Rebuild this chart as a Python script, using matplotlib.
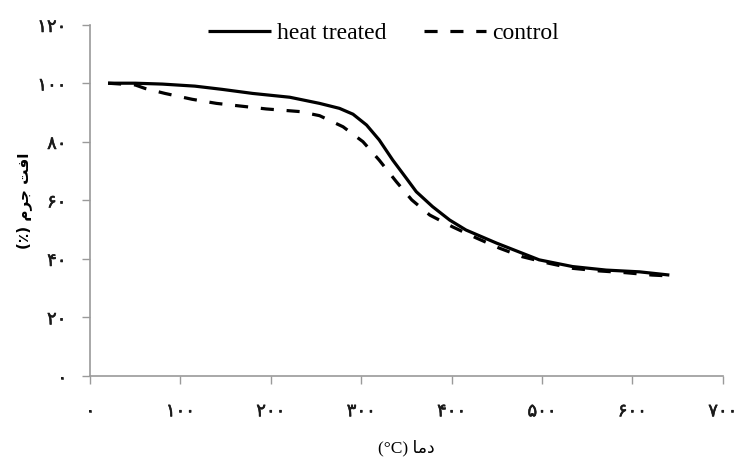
import matplotlib
matplotlib.use('Agg')
import numpy as np
from matplotlib import pyplot as plt
from matplotlib import patheffects

# temperature (C) and mass (%)
heat_temp = [20, 50, 80, 116, 146, 180, 221, 254, 276, 291, 306, 320, 335, 350, 361,
             379, 398, 416, 450, 497, 534, 571, 608, 641]
heat_mass = [100.1, 100.1, 99.8, 99.1, 98.0, 96.6, 95.3, 93.2, 91.5, 89.5, 85.8, 80.7,
             73.8, 67.6, 63.0, 57.9, 53.3, 49.9, 45.4, 39.7, 37.4, 36.2, 35.6, 34.5]

ctrl_temp = [20, 50, 61, 83, 113, 140, 195, 232, 254, 280, 302, 320, 339, 356, 376,
             401, 428, 453, 478, 508, 534, 564, 593, 622, 635]
ctrl_mass = [100.1, 99.5, 98.3, 96.6, 94.6, 93.2, 91.3, 90.4, 89.0, 85.2, 80.1, 73.8,
             66.4, 60.2, 55.0, 51.0, 47.1, 43.7, 40.8, 38.5, 36.8, 35.9, 35.3, 34.5, 34.3]

x_ticks = [0, 100, 200, 300, 400, 500, 600, 700]
y_ticks = [0, 20, 40, 60, 80, 100, 120]

# persian digits for tick labels
fa_digits = str.maketrans('0123456789', '\u06f0\u06f1\u06f2\u06f3\u06f4\u06f5\u06f6\u06f7\u06f8\u06f9')
x_labels = [str(v).translate(fa_digits) for v in x_ticks]
y_labels = [str(v).translate(fa_digits) for v in y_ticks]

# matplotlib has no arabic shaping, so labels are written in presentation forms, visual order
x_title = '(\u00b0C) \ufe8e\ufee3\ufea9'                      # دما (°C)
y_title = '(\u066a) \ufee1\ufeae\ufe9f \ufe96\ufed3\ufe8d'     # افت جرم (٪)

fig = plt.figure(figsize=(7.4, 4.63), dpi=100)
ax = fig.add_axes([0.1216, 0.188, 0.855, 0.758])

ax.plot(heat_temp, heat_mass, color='black', lw=2.3, solid_joinstyle='round',
        solid_capstyle='butt', label='heat treated')
ax.plot(ctrl_temp, ctrl_mass, color='black', lw=2.3, dashes=(4.1, 4.0),
        dash_joinstyle='round', label='control')

ax.set_xlim(0, 700)
ax.set_ylim(0, 120)
ax.set_xticks(x_ticks)
ax.set_xticklabels(x_labels)
ax.set_yticks(y_ticks)
ax.set_yticklabels(y_labels)

for side in ['top', 'right']:
    ax.spines[side].set_visible(False)
for side in ['left', 'bottom']:
    ax.spines[side].set_color('#9a9a9a')
    ax.spines[side].set_linewidth(1.2)

ax.tick_params(axis='both', direction='out', length=6, width=1.0, color='#9a9a9a',
               labelsize=13, labelcolor='#1a1a1a')
ax.tick_params(axis='x', pad=13)
ax.tick_params(axis='y', pad=11)

# slightly heavier digits, like the source
thicker = [patheffects.withStroke(linewidth=0.4, foreground='#1a1a1a')]
for lab in ax.get_xticklabels() + ax.get_yticklabels():
    lab.set_path_effects(thicker)

ax.set_xlabel(x_title, fontsize=12.5, family=['Liberation Serif', 'DejaVu Sans'], labelpad=14)
ax.set_ylabel(y_title, fontsize=11, family=['DejaVu Sans'], fontweight='bold', labelpad=4)

ax.legend(loc='center', bbox_to_anchor=(0.464, 0.977), ncol=2, frameon=False,
          prop={'family': 'Liberation Serif', 'size': 17}, handlelength=2.65,
          handletextpad=0.25, columnspacing=1.6)

fig.savefig('out.png', dpi=100)
